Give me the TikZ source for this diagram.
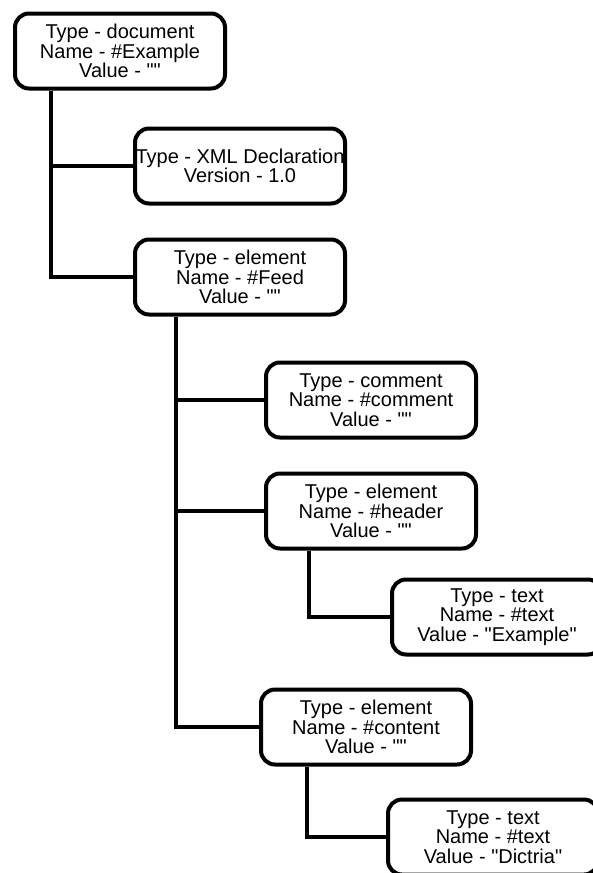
\documentclass[tikz,border=0pt]{standalone}
\usepackage{fontspec}
\setmainfont{Liberation Sans}[Ligatures=TeXOff]
\usetikzlibrary{calc}
\tikzstyle{line} = [draw, line width=4pt]
\tikzstyle{block} = [draw, line width=4pt, rectangle, rounded corners=14pt, align=center, text centered, inner sep=0pt, minimum width=210pt, minimum height=75pt, font=\fontsize{20pt}{19.4pt}\selectfont]

\begin{document}
\begin{tikzpicture}[x=1pt, y=1pt]
        \useasboundingbox (0,0) rectangle (592,-873);
        \node[block] (document) at (120,-51) {Type - document\\Name - \#Example\\Value - ""};
        \node[block] (xmldecl) at (240,-166) {Type - XML Declaration\\Version - 1.0};
        \node[block] (feed) at (240,-277) {Type - element\\Name - \#Feed\\Value - ""};
        \node[block] (comment) at (371,-400) {Type - comment\\Name - \#comment\\Value - ""};
        \node[block] (header) at (371,-511) {Type - element\\Name - \#header\\Value - ""};
        \node[block] (headertext) at (497,-617) {Type - text\\Name - \#text\\Value - "Example"};
        \node[block] (content) at (366,-727) {Type - element\\Name - \#content\\Value - ""};
        \node[block] (contenttext) at (493,-837) {Type - text\\Name - \#text\\Value - "Dictria"};
        \path[line] ([xshift=38pt]document.south west) |- (xmldecl.west);
        \path[line] ([xshift=38pt]document.south west) |- (feed.west);
        \path[line] ([xshift=43pt]feed.south west) |- (comment.west);
        \path[line] ([xshift=43pt]feed.south west) |- (header.west);
        \path[line] ([xshift=43pt]feed.south west) |- (content.west);
        \path[line] ([xshift=45pt]header.south west) |- (headertext.west);
        \path[line] ([xshift=48pt]content.south west) |- (contenttext.west);
    \end{tikzpicture}
\end{document}
